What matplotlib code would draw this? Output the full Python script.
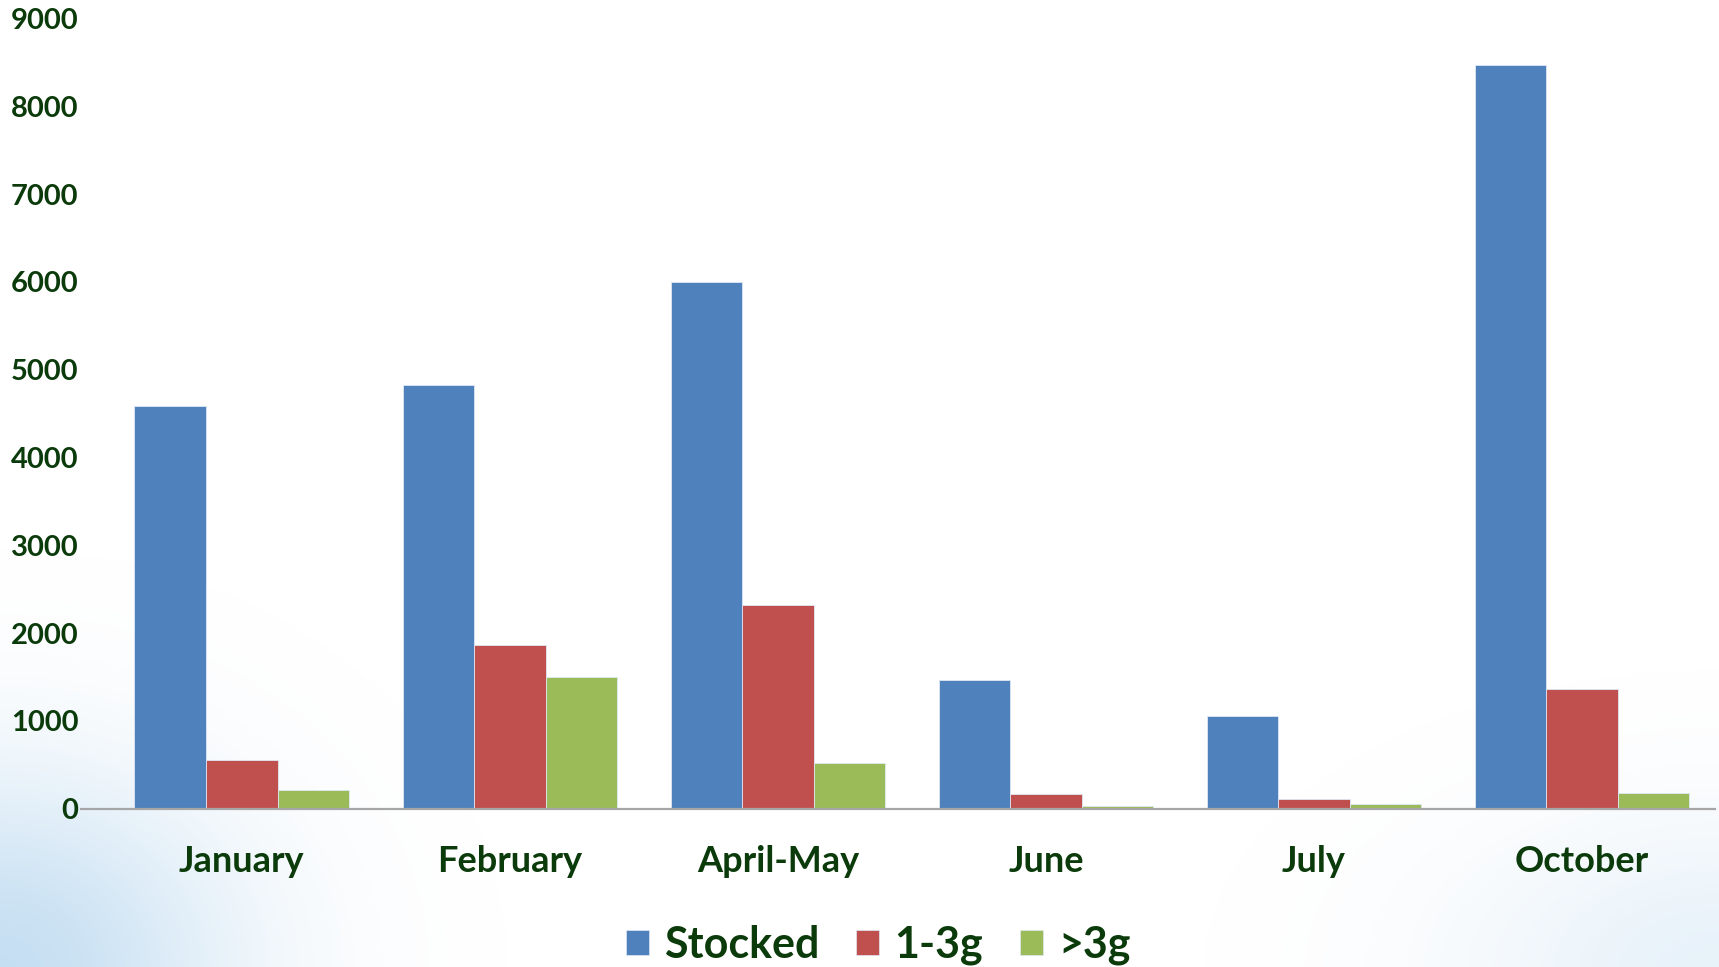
import numpy as np
import matplotlib
matplotlib.use("Agg")
import matplotlib.pyplot as plt
from matplotlib.patches import Patch

plt.rcParams["font.family"] = ["Lato", "DejaVu Sans"]
plt.rcParams["font.weight"] = "bold"

months = ["January", "February", "April-May", "June", "July", "October"]
series = ["Stocked", "1-3g", ">3g"]
stocked = [4590, 4830, 6000, 1470, 1060, 8470]
small = [550, 1870, 2320, 165, 114, 1365]
large = [210, 1500, 515, 27, 58, 182]
colors = ["#4F81BD", "#C0504D", "#9BBB59"]
txt = "#0b3a0b"

W, H = 1719, 967
fig = plt.figure(figsize=(W / 100, H / 100), dpi=100)

# pale blue wash in the bottom corners
bg = fig.add_axes([0, 0, 1, 1], zorder=-5)
bg.axis("off")
yy, xx = np.mgrid[0:H:2, 0:W:2]
left = np.exp(-(((xx - 0) / 230.0) ** 2 + ((yy - H) / 190.0) ** 2))
right = np.exp(-(((xx - W) / 260.0) ** 2 + ((yy - H) / 150.0) ** 2)) * 0.4
a = np.clip(left + right, 0, 1) * 0.5
img = np.zeros(xx.shape + (4,))
img[..., 0] = 0.55
img[..., 1] = 0.75
img[..., 2] = 0.90
img[..., 3] = a
bg.imshow(img, extent=[0, 1, 0, 1], aspect="auto")
bg.set_xlim(0, 1); bg.set_ylim(0, 1)

ax = fig.add_axes([81 / W, 1 - 808.7 / H, 1634 / W, (808.7 - 18.6) / H])
ax.patch.set_alpha(0)
x = np.arange(len(months))
w = 0.267
for i, (vals, c) in enumerate(zip([stocked, small, large], colors)):
    ax.bar(x + (i - 1) * w, vals, w, color=c, edgecolor="#dfe8f3", linewidth=0.6, zorder=2)

ax.set_xlim(-0.6, 5.496)
ax.set_ylim(0, 9000)
ax.set_yticks(range(0, 9001, 1000))
ax.set_xticks(x)
ax.set_xticklabels(months, fontsize=26, color=txt, fontweight="bold")
ax.tick_params(axis="y", length=0, pad=2, labelsize=21, labelcolor=txt)
ax.tick_params(axis="x", length=0, pad=26)
for s in ["top", "right", "left"]:
    ax.spines[s].set_visible(False)
ax.spines["bottom"].set_color("#a6a6a6")
ax.spines["bottom"].set_linewidth(1.6)
ax.spines["bottom"].set_zorder(3)

handles = [Patch(facecolor=c, edgecolor="#dfe8f3", linewidth=0.5) for c in colors]
fig.legend(handles, series, loc="center", bbox_to_anchor=(878 / W, 1 - 945 / H),
           ncol=3, frameon=False, handlelength=0.54, handleheight=0.54,
           handletextpad=0.35, columnspacing=0.85, labelcolor=txt,
           prop={"weight": "bold", "size": 31})

fig.savefig("out.png", dpi=100)
